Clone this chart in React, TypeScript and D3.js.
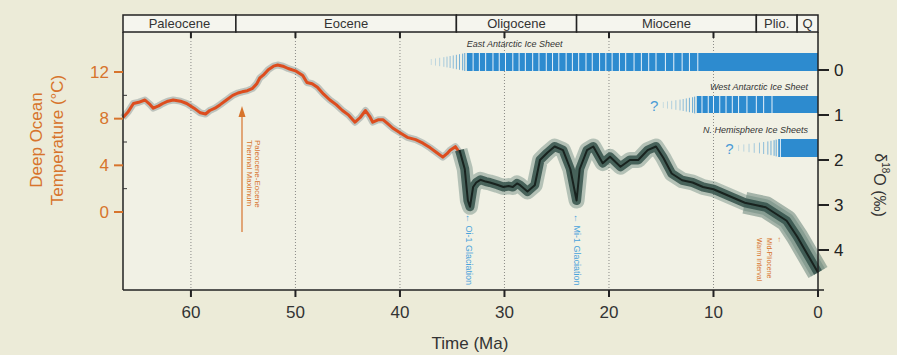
import React from "react";
import * as d3 from "d3";

// ---------- data ----------
const xTicks = [60, 50, 40, 30, 20, 10, 0];
const tempTicks = [12, 8, 4, 0];
const tempMinor = [10, 6, 2];
const d18Ticks = [0, 1, 2, 3, 4];

const epochNames = ["Paleocene", "Eocene", "Oligocene", "Miocene", "Plio.", "Q"];
const epochStart = [66.5, 55.7, 34.6, 23.1, 5.9, 2.0];
const epochEnd = [55.7, 34.6, 23.1, 5.9, 2.0, 0];

// Temperature record (°C), Paleocene–Eocene (left axis)
const tempAge = [66.5, 66.0, 65.5, 65.0, 64.4, 63.9, 63.6, 63.1, 62.7, 62.2, 61.7, 61.0, 60.4, 59.7, 59.1, 58.6, 58.2, 57.7, 57.2, 56.6, 56.0, 55.5, 55.1, 54.6, 54.1, 53.7, 53.4, 53.0, 52.6, 52.1, 51.7, 51.2, 50.7, 50.0, 49.3, 48.9, 48.4, 47.9, 47.3, 46.7, 46.1, 45.5, 44.9, 44.3, 43.8, 43.3, 42.9, 42.6, 42.1, 41.6, 41.2, 40.7, 40.0, 39.3, 38.5, 37.8, 37.1, 36.5, 35.9, 35.5, 35.2, 34.7, 34.3];
const tempVal = [8.1, 8.6, 9.3, 9.4, 9.6, 9.2, 8.9, 9.1, 9.3, 9.5, 9.6, 9.5, 9.3, 8.9, 8.5, 8.4, 8.7, 8.9, 9.2, 9.6, 10.0, 10.2, 10.3, 10.4, 10.6, 11.0, 11.5, 11.8, 12.2, 12.5, 12.6, 12.5, 12.3, 12.1, 11.7, 11.1, 11.0, 10.7, 10.1, 9.6, 9.2, 8.7, 8.3, 7.7, 8.1, 8.7, 8.2, 7.7, 7.9, 7.9, 7.6, 7.2, 6.8, 6.4, 6.2, 5.9, 5.5, 5.1, 4.7, 5.0, 5.3, 5.6, 5.1];

// Benthic δ18O record (‰), Oligocene–present (right axis)
const d18Age = [34.3, 33.8, 33.5, 33.3, 33.0, 32.7, 32.3, 31.8, 31.4, 30.7, 30.1, 29.6, 29.2, 28.8, 28.5, 27.8, 27.1, 26.6, 25.9, 25.2, 24.4, 23.7, 23.1, 22.8, 22.1, 21.5, 20.6, 19.9, 18.9, 18.0, 17.2, 16.3, 15.5, 14.8, 14.0, 13.0, 12.0, 11.0, 10.0, 9.0, 8.0, 7.0, 6.0, 5.0, 4.0, 3.0, 2.0, 1.0, 0.0];
const d18Val = [1.78, 2.2, 2.9, 3.04, 2.6, 2.5, 2.44, 2.48, 2.5, 2.55, 2.6, 2.58, 2.6, 2.52, 2.56, 2.7, 2.56, 2.0, 1.84, 1.7, 1.78, 2.2, 2.9, 2.2, 1.78, 1.7, 2.07, 1.93, 2.15, 2.0, 2.0, 1.78, 1.7, 1.95, 2.3, 2.45, 2.5, 2.6, 2.65, 2.75, 2.85, 2.95, 3.0, 3.05, 3.2, 3.35, 3.7, 4.1, 4.5];

// Ice sheets
const iceNames = ["East Antarctic Ice Sheet", "West Antarctic Ice Sheet", "N. Hemisphere Ice Sheets"];
const iceFadeStart = [37.1, 14.9, 7.7];
const iceStart = [33.6, 11.6, 3.8];
const iceStripes = [
  [33.0, 32.4, 31.8, 31.1, 30.5, 29.9, 29.2, 28.6, 28.0, 27.3, 26.7, 26.0, 25.4, 24.8, 24.1, 23.5, 22.9, 22.2, 21.6, 20.9, 20.3, 19.7, 19.0, 18.4, 17.6, 16.9, 16.2, 15.5, 14.6, 13.8, 13.0, 12.3, 11.5],
  [11.1, 10.5, 10.0, 9.4, 8.8, 8.2, 7.6, 6.8, 5.9, 5.2, 4.4],
  [3.6],
];
const iceFadeTicks = [
  [37.0, 36.6, 36.2, 35.8, 35.5, 35.2, 34.9, 34.6, 34.3, 34.0, 33.8],
  [14.8, 14.4, 14.0, 13.6, 13.2, 12.9, 12.6, 12.3, 12.0, 11.8],
  [7.6, 7.1, 6.6, 6.1, 5.6, 5.2, 4.8, 4.5, 4.2, 4.0],
];

// ---------- layout ----------
const W = 897, H = 355;
const L = 123, R = 818, T = 32, B = 290;
const ORANGE = "#d7742c";
const BLUE = "#2d8bcf";
const FONT = "'Liberation Sans', Arial, sans-serif";

export default function App() {
  const x = d3.scaleLinear().domain([66.5, 0]).range([L, R]);
  const yT = d3.scaleLinear().domain([0, 12]).range([212, 72]);
  const yD = d3.scaleLinear().domain([0, 4]).range([70, 250]);

  const tempPts = tempAge.map((a, i) => [a, tempVal[i]] as [number, number]);
  const d18Pts = d18Age.map((a, i) => [a, d18Val[i]] as [number, number]);
  const tLine = d3.line<[number, number]>().x(d => x(d[0])).y(d => yT(d[1]));
  const dLine = d3.line<[number, number]>().x(d => x(d[0])).y(d => yD(d[1]));
  const lateD18 = d18Pts.filter(d => d[0] <= 7);

  const iceY = [53, 96, 139];
  const iceHgt = [18, 17, 18];
  const labelY = [47, 90, 133];

  const rot = (cx: number, cy: number) => `translate(${cx},${cy}) rotate(90)`;

  return (
    <svg width={W} height={H} style={{ position: "absolute", left: 0, top: 0, display: "block" }} fontFamily={FONT}>
      <rect x={0} y={0} width={W} height={H} fill="#ecebd8" />
      <rect x={L} y={T} width={R - L} height={B - T} fill="#f1f1e5" />

      {/* dotted gridlines */}
      {xTicks.filter(t => t > 0).map(t => (
        <line key={"g" + t} x1={x(t)} x2={x(t)} y1={T} y2={B} stroke="#8a8a86" strokeWidth={1} strokeDasharray="1 2" />
      ))}
      {xTicks.filter(t => t > 0).map(t => (
        <line key={"tt" + t} x1={x(t)} x2={x(t)} y1={T} y2={T + 6} stroke="#222" strokeWidth={2} />
      ))}

      {/* ice sheets */}
      {iceNames.map((n, i) => (
        <g key={n}>
          {i === 0 ? (
            <text x={x(iceStart[0])} y={labelY[i]} fontSize={9} fontStyle="italic" fill="#333">{n}</text>
          ) : (
            <text x={R - 10} y={labelY[i]} fontSize={9} fontStyle="italic" fill="#333" textAnchor="end">{n}</text>
          )}
          {iceFadeTicks[i].map((t, j) => (
            <line key={j} x1={x(t)} x2={x(t)} y1={iceY[i] + 9 - (3 + j * 0.6)} y2={iceY[i] + 9 + (3 + j * 0.6)}
              stroke={BLUE} strokeWidth={1} opacity={0.2 + 0.6 * j / iceFadeTicks[i].length} />
          ))}
          <rect x={x(iceStart[i])} y={iceY[i]} width={R - x(iceStart[i])} height={iceHgt[i]} fill={BLUE} />
          {iceStripes[i].map((t, j) => (
            <line key={"s" + j} x1={x(t)} x2={x(t)} y1={iceY[i]} y2={iceY[i] + iceHgt[i]} stroke="#e8f2fa" strokeWidth={1} />
          ))}
          {i > 0 && (
            <text x={x(iceFadeStart[i]) - 4} y={iceY[i] + 15} fontSize={15} fill="#4a9bd6" textAnchor="end">?</text>
          )}
        </g>
      ))}

      {/* temperature record */}
      <path d={tLine(tempPts) || ""} fill="none" stroke="#7e8c8c" strokeWidth={7} strokeLinejoin="round" opacity={0.45} />
      <path d={tLine(tempPts) || ""} fill="none" stroke="#dd4d1e" strokeWidth={3} strokeLinejoin="round" />

      {/* δ18O record */}
      <path d={dLine(lateD18) || ""} fill="none" stroke="#4a6a60" strokeWidth={22} strokeLinejoin="round" opacity={0.45} />
      <path d={dLine(d18Pts) || ""} fill="none" stroke="#5a7a70" strokeWidth={16} strokeLinejoin="round" opacity={0.4} />
      <path d={dLine(d18Pts) || ""} fill="none" stroke="#34514a" strokeWidth={9} strokeLinejoin="round" opacity={0.85} />
      <path d={dLine(d18Pts) || ""} fill="none" stroke="#18221e" strokeWidth={2} strokeLinejoin="round" />

      {/* annotations */}
      <line x1={242} x2={242} y1={110} y2={232} stroke={ORANGE} strokeWidth={1.2} />
      <path d="M238.5,117 L242,106 L245.5,117 Z" fill={ORANGE} />
      <text transform={rot(257, 140)} fontSize={8} fill={ORANGE} dominantBaseline="central">Paleocene-Eocene</text>
      <text transform={rot(249, 140)} fontSize={8} fill={ORANGE} dominantBaseline="central">Thermal Maximum</text>

      <text transform={rot(x(33.3) - 1, 214)} fontSize={9} fill="#4aa3db" dominantBaseline="central">← Oi-1 Glaciation</text>
      <text transform={rot(x(23.1), 214)} fontSize={9} fill="#4aa3db" dominantBaseline="central">← Mi-1 Glaciation</text>

      <text transform={rot(780, 236)} fontSize={7.5} fill={ORANGE} dominantBaseline="central">←</text>
      <text transform={rot(769, 238)} fontSize={7} fill={ORANGE} dominantBaseline="central">Mid-Pliocene</text>
      <text transform={rot(759, 238)} fontSize={7} fill={ORANGE} dominantBaseline="central">Warm Interval</text>

      {/* epoch bar */}
      {epochNames.map((n, i) => (
        <g key={n}>
          <rect x={x(epochStart[i])} y={15} width={x(epochEnd[i]) - x(epochStart[i])} height={T - 15} fill="#f5f5ee" stroke="#222" strokeWidth={1.5} />
          <text x={(x(epochStart[i]) + x(epochEnd[i])) / 2} y={28} fontSize={13} fill="#333" textAnchor="middle">{n}</text>
        </g>
      ))}

      {/* axes */}
      <line x1={L} x2={L} y1={T} y2={B} stroke="#222" strokeWidth={1.5} />
      <line x1={R} x2={R} y1={T} y2={B} stroke="#222" strokeWidth={1.5} />
      <line x1={L} x2={R + 6} y1={B} y2={B} stroke="#222" strokeWidth={1.5} />

      {xTicks.map(t => (
        <g key={"x" + t}>
          <line x1={x(t)} x2={x(t)} y1={B} y2={B + 7} stroke="#222" strokeWidth={2} />
          <text x={x(t)} y={B + 28} fontSize={17} fill="#333" textAnchor="middle">{t}</text>
        </g>
      ))}
      <text x={470} y={349} fontSize={17} fill="#333" textAnchor="middle">Time (Ma)</text>

      {tempTicks.map(t => (
        <g key={"l" + t}>
          <line x1={L - 9} x2={L} y1={yT(t)} y2={yT(t)} stroke={ORANGE} strokeWidth={2} />
          <text x={L - 14} y={yT(t)} fontSize={17} fill={ORANGE} textAnchor="end" dominantBaseline="central">{t}</text>
        </g>
      ))}
      {tempMinor.map(t => (
        <line key={"m" + t} x1={L} x2={L + 4} y1={yT(t)} y2={yT(t)} stroke="#333" strokeWidth={1} />
      ))}
      <text transform="translate(36,140) rotate(-90)" fontSize={17} fill={ORANGE} textAnchor="middle" dominantBaseline="central">Deep Ocean</text>
      <text transform="translate(57,140) rotate(-90)" fontSize={17} fill={ORANGE} textAnchor="middle" dominantBaseline="central">Temperature (°C)</text>

      {d18Ticks.map(t => (
        <g key={"r" + t}>
          <line x1={R} x2={R + 11} y1={yD(t)} y2={yD(t)} stroke="#222" strokeWidth={2} />
          <text x={R + 16} y={yD(t)} fontSize={17} fill="#222" dominantBaseline="central">{t}</text>
        </g>
      ))}
      <text transform="translate(880,185) rotate(90)" fontSize={16} fill="#333" textAnchor="middle" dominantBaseline="central">
        δ<tspan fontSize={10} dy={-6}>18</tspan><tspan dy={6}>O (‰)</tspan>
      </text>
    </svg>
  );
}
